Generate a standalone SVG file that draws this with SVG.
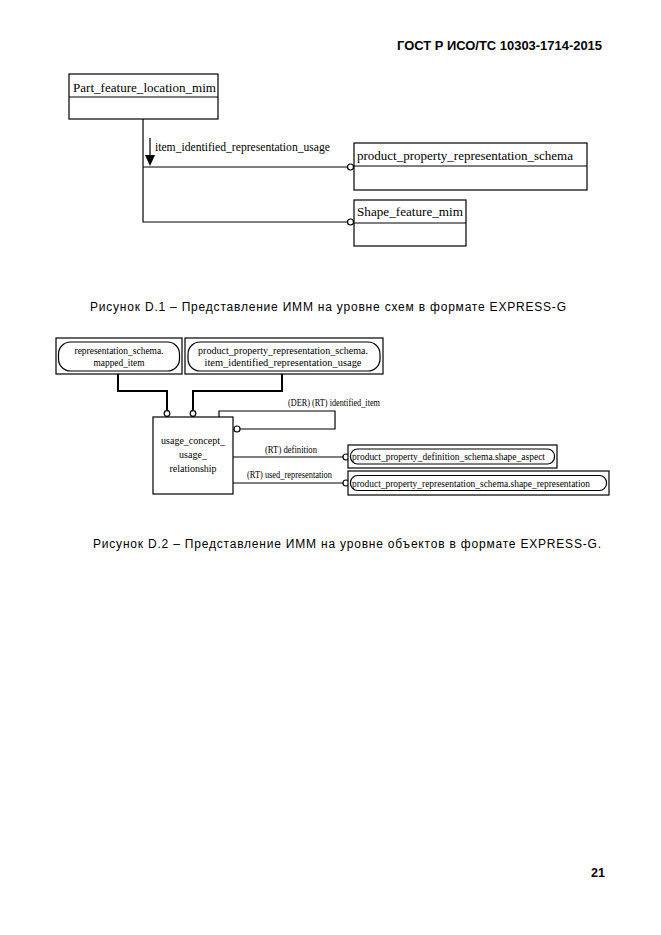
<svg xmlns="http://www.w3.org/2000/svg" width="661" height="935" viewBox="0 0 661 935">
<style>
.bg{fill:#fff}
.box{fill:#fff;stroke:#000;stroke-width:1.2}
.ln{fill:none;stroke:#000;stroke-width:1.2}
.thk{fill:none;stroke:#000;stroke-width:2}
.circ{fill:#fff;stroke:#000;stroke-width:1.2}
.t1{font-family:"Liberation Serif",serif;font-size:13px;fill:#000}
.t2{font-family:"Liberation Serif",serif;font-size:10px;fill:#000}
.cap{font-family:"Liberation Sans",Arial,sans-serif;font-size:12px;fill:#000}
.hdr{font-family:"Liberation Sans",Arial,sans-serif;font-size:12.5px;font-weight:bold;fill:#000}
</style>
<rect class="bg" x="0" y="0" width="661" height="935"/>
<text class="hdr" x="397" y="50" textLength="205" lengthAdjust="spacingAndGlyphs">ГОСТ Р ИСО/ТС 10303-1714-2015</text>

<g id="connectors">
  <path class="ln" d="M143,119 V222 H347"/>
  <path class="ln" d="M143,167 H347"/>
  <circle class="circ" cx="350.5" cy="167" r="3"/>
  <circle class="circ" cx="350.5" cy="222" r="3"/>
  <line class="ln" x1="150" y1="138" x2="150" y2="157"/>
  <polygon points="145,155 155,155 150,166" fill="#000"/>
  <text class="t1" x="155" y="151" textLength="175" lengthAdjust="spacingAndGlyphs">item_identified_representation_usage</text>

  <path class="thk" d="M118,374 V391 H167 V410"/>
  <path class="thk" d="M282,374 V391 H193 V410"/>
  <circle class="circ" cx="167" cy="413.5" r="2.8"/>
  <circle class="circ" cx="193" cy="413.5" r="2.8"/>
  <path class="ln" d="M219,417 V411 H335 V429 H240"/>
  <circle class="circ" cx="237" cy="429" r="3"/>
  <text class="t2" x="288" y="406" textLength="92" lengthAdjust="spacingAndGlyphs">(DER) (RT) identified_item</text>
  <line class="ln" x1="233" y1="457" x2="343" y2="457"/>
  <circle class="circ" cx="346" cy="457" r="3"/>
  <text class="t2" x="265" y="453" textLength="52" lengthAdjust="spacingAndGlyphs">(RT) definition</text>
  <line class="ln" x1="233" y1="483" x2="343" y2="483"/>
  <circle class="circ" cx="346" cy="483" r="3"/>
  <text class="t2" x="247" y="478" textLength="85" lengthAdjust="spacingAndGlyphs">(RT) used_representation</text>
</g>

<g id="part_feature_location_mim">
  <rect class="box" x="69" y="74" width="149" height="45"/>
  <line class="ln" x1="69" y1="97" x2="218" y2="97"/>
  <text class="t1" x="73" y="92" textLength="143" lengthAdjust="spacingAndGlyphs">Part_feature_location_mim</text>
</g>
<g id="product_property_representation_schema">
  <rect class="box" x="354" y="143" width="233" height="47"/>
  <line class="ln" x1="354" y1="166" x2="587" y2="166"/>
  <text class="t1" x="357" y="160" textLength="216" lengthAdjust="spacingAndGlyphs">product_property_representation_schema</text>
</g>
<g id="shape_feature_mim">
  <rect class="box" x="354" y="200" width="112" height="46"/>
  <line class="ln" x1="354" y1="223" x2="466" y2="223"/>
  <text class="t1" x="357" y="216" textLength="106" lengthAdjust="spacingAndGlyphs">Shape_feature_mim</text>
</g>

<text class="cap" x="90" y="311" textLength="476" lengthAdjust="spacing">Рисунок D.1 – Представление ИММ на уровне схем в формате EXPRESS-G</text>

<g id="mapped_item">
  <rect class="box" x="56" y="338" width="126" height="36"/>
  <rect class="box" x="58.5" y="342" width="121" height="29" rx="12"/>
  <text class="t2" x="119" y="354" text-anchor="middle" textLength="89" lengthAdjust="spacingAndGlyphs">representation_schema.</text>
  <text class="t2" x="119" y="366" text-anchor="middle" textLength="51" lengthAdjust="spacingAndGlyphs">mapped_item</text>
</g>
<g id="item_identified_representation_usage">
  <rect class="box" x="185" y="338" width="198" height="36"/>
  <rect class="box" x="188" y="342" width="192" height="29" rx="12"/>
  <text class="t2" x="283" y="354" text-anchor="middle" textLength="170" lengthAdjust="spacingAndGlyphs">product_property_representation_schema.</text>
  <text class="t2" x="283" y="366" text-anchor="middle" textLength="157" lengthAdjust="spacingAndGlyphs">item_identified_representation_usage</text>
</g>
<g id="usage_concept_usage_relationship">
  <rect class="box" x="153" y="417" width="80" height="77"/>
  <text class="t2" x="193" y="444" text-anchor="middle">usage_concept_</text>
  <text class="t2" x="193" y="458" text-anchor="middle">usage_</text>
  <text class="t2" x="193" y="472" text-anchor="middle">relationship</text>
</g>
<g id="shape_aspect">
  <rect class="box" x="348" y="445" width="209" height="23"/>
  <rect class="box" x="350.5" y="449" width="204" height="15" rx="7"/>
  <text class="t2" x="352" y="460" textLength="193" lengthAdjust="spacingAndGlyphs">product_property_definition_schema.shape_aspect</text>
</g>
<g id="shape_representation">
  <rect class="box" x="348" y="471" width="261" height="24"/>
  <rect class="box" x="350.5" y="475.5" width="256" height="15" rx="7"/>
  <text class="t2" x="352" y="487" textLength="238" lengthAdjust="spacingAndGlyphs">product_property_representation_schema.shape_representation</text>
</g>

<text class="cap" x="93" y="548" textLength="508" lengthAdjust="spacing">Рисунок D.2 – Представление ИММ на уровне объектов в формате EXPRESS-G.</text>
<text class="hdr" x="605" y="877" text-anchor="end">21</text>
</svg>
